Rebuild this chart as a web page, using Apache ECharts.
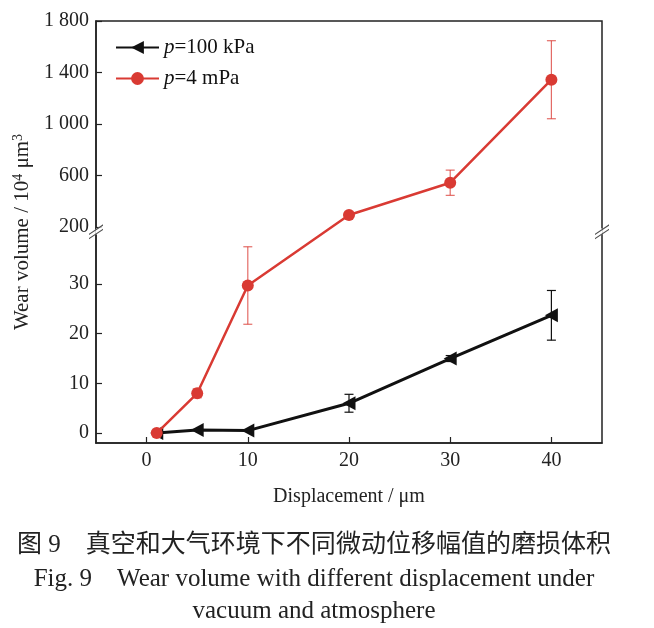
<!DOCTYPE html>
<html>
<head>
<meta charset="utf-8">
<script src="https://cdn.jsdelivr.net/npm/echarts@6/dist/echarts.min.js"></script>
<style>html,body{margin:0;padding:0;background:#fff}#c{width:654px;height:628px}</style>
</head>
<body>
<div id="c"></div>
<script>
// ---- data ----
const displacement = [1, 5, 10, 20, 30, 40];
const airWear = [0, 0.6, 0.5, 6.0, 15.0, 23.7];        // p=100 kPa
const airErr = [0, 0, 0, 1.8, 0.6, 5.0];
const vacuumWear = [0, 8.0, 29.7, 293, 544, 1344];    // p=4 mPa
const vacuumErr = [0, 0.9, 7.8, 0, 98, 303];
const xTicks = [0, 10, 20, 30, 40];
const yTicksLow = [0, 10, 20, 30];
const yTicksHigh = [200, 600, 1000, 1400, 1800];
const seriesNames = ['p=100 kPa', 'p=4 mPa'];

// ---- broken-axis mapping (lower 0..40 linear, upper 200..1800 compressed) ----
const D200 = 41.47, K = 38.58, BREAK_D = 40.5;
function toAxis(v) { return v < 100 ? v : D200 + (v - 200) / K; }
function fromAxis(d) { return d < 41 ? d : 200 + (d - D200) * K; }
function fmt(v) {
  const n = Math.round(v);
  const s = String(n);
  return s.length > 3 ? s.slice(0, s.length - 3) + ' ' + s.slice(-3) : s;
}

const serif = '"Liberation Serif", "Times New Roman", serif';
const RED = '#d93a33', BLACK = '#111111';

function pts(vals) { return displacement.map((x, i) => [x, toAxis(vals[i])]); }
function errData(vals, errs) {
  return displacement.map((x, i) => [x, toAxis(vals[i] - errs[i]), toAxis(vals[i] + errs[i])]);
}
function errSeries(vals, errs, color) {
  return {
    type: 'custom', silent: true, z: 3,
    renderItem: function (params, api) {
      const lo = api.coord([api.value(0), api.value(1)]);
      const hi = api.coord([api.value(0), api.value(2)]);
      if (Math.abs(hi[1] - lo[1]) < 1) return null;
      const w = 4.5;
      const st = { stroke: color, lineWidth: 1.2 };
      return { type: 'group', children: [
        { type: 'line', shape: { x1: lo[0], y1: lo[1], x2: hi[0], y2: hi[1] }, style: st },
        { type: 'line', shape: { x1: lo[0] - w, y1: lo[1], x2: lo[0] + w, y2: lo[1] }, style: st },
        { type: 'line', shape: { x1: hi[0] - w, y1: hi[1], x2: hi[0] + w, y2: hi[1] }, style: st }
      ]};
    },
    encode: { x: 0, y: [1, 2] },
    data: errData(vals, errs)
  };
}

const yTicks = yTicksLow.concat(yTicksHigh).map(toAxis);

const chart = echarts.init(document.getElementById('c'));
chart.setOption({
  animation: false,
  backgroundColor: '#fff',
  grid: { left: 96, right: 52, top: 21, bottom: 185, show: true, borderColor: '#222', borderWidth: 1.5, backgroundColor: 'transparent' },
  legend: {
    data: seriesNames,
    orient: 'vertical', left: 110, top: 32,
    itemWidth: 43, itemHeight: 16, itemGap: 10,
    formatter: n => n.replace(/^p/, '{i|p}'),
    textStyle: { fontFamily: serif, fontSize: 21, color: '#111',
      rich: { i: { fontFamily: serif, fontSize: 21, fontStyle: 'italic', color: '#111' } } }
  },
  xAxis: {
    type: 'value', min: -5, max: 45,
    name: 'Displacement / μm', nameLocation: 'middle', nameGap: 44,
    nameTextStyle: { fontFamily: serif, fontSize: 20, color: '#222' },
    axisLine: { onZero: false, lineStyle: { color: '#222', width: 1.5 } },
    axisTick: { inside: true, length: 6, customValues: xTicks, lineStyle: { color: '#222', width: 1.2 } },
    axisLabel: { customValues: xTicks, fontFamily: serif, fontSize: 20, color: '#222', margin: 8 },
    splitLine: { show: false }
  },
  yAxis: {
    type: 'value', min: -2, max: toAxis(1800),
    name: 'Wear volume / 10{s|4} μm{s|3}', nameLocation: 'middle', nameGap: 59, nameRotate: 90,
    nameTextStyle: { fontFamily: serif, fontSize: 21, color: '#222',
      rich: { s: { fontFamily: serif, fontSize: 14, color: '#222', verticalAlign: 'bottom', padding: [0, 0, 9, 0] } } },
    axisLine: { onZero: false, lineStyle: { color: '#222', width: 1.5 } },
    axisTick: { inside: true, length: 6, customValues: yTicks, lineStyle: { color: '#222', width: 1.2 } },
    axisLabel: { customValues: yTicks, fontFamily: serif, fontSize: 20, color: '#222', margin: 7,
      formatter: d => fmt(fromAxis(d)) },
    splitLine: { show: false }
  },
  graphic: [
    { type: 'text', style: { x: 314, y: 545, text: '图 9　真空和大气环境下不同微动位移幅值的磨损体积',
      font: '25px "Liberation Serif", "Noto Sans CJK SC"', textAlign: 'center', textVerticalAlign: 'middle', fill: '#222' } },
    { type: 'text', style: { x: 314, y: 579, text: 'Fig. 9    Wear volume with different displacement under',
      font: '25px "Liberation Serif"', textAlign: 'center', textVerticalAlign: 'middle', fill: '#222' } },
    { type: 'text', style: { x: 314, y: 611, text: 'vacuum and atmosphere',
      font: '25px "Liberation Serif"', textAlign: 'center', textVerticalAlign: 'middle', fill: '#222' } }
  ],
  series: [
    errSeries(airWear, airErr, BLACK),
    errSeries(vacuumWear, vacuumErr, 'rgba(217,58,51,0.75)'),
    {
      name: seriesNames[0], type: 'line', data: pts(airWear), z: 4,
      symbol: 'triangle', symbolRotate: 90, symbolSize: [14, 13],
      lineStyle: { color: BLACK, width: 3 }, itemStyle: { color: BLACK }
    },
    {
      name: seriesNames[1], type: 'line', data: pts(vacuumWear), z: 5,
      symbol: 'circle', symbolSize: 12,
      lineStyle: { color: RED, width: 2.5 }, itemStyle: { color: RED },
      markArea: { silent: true, itemStyle: { color: '#fff' },
        data: [[{ yAxis: 40.0 }, { yAxis: 41.2 }]] }
    },
    {
      type: 'scatter', silent: true, clip: false, z: 10,
      symbol: 'path://M0,12 L16,2 L16,8 L0,18 Z', symbolSize: [14, 15],
      itemStyle: { color: '#fff' },
      data: [[-5, BREAK_D], [45, BREAK_D]]
    },
    {
      type: 'scatter', silent: true, clip: false, z: 11,
      symbol: 'path://M0,12 L16,2 L16,3.4 L0,13.4 Z M0,16.6 L16,6.6 L16,8 L0,18 Z', symbolSize: [14, 15],
      itemStyle: { color: '#222' },
      data: [[-5, BREAK_D], [45, BREAK_D]]
    }
  ]
});
</script>
</body>
</html>
